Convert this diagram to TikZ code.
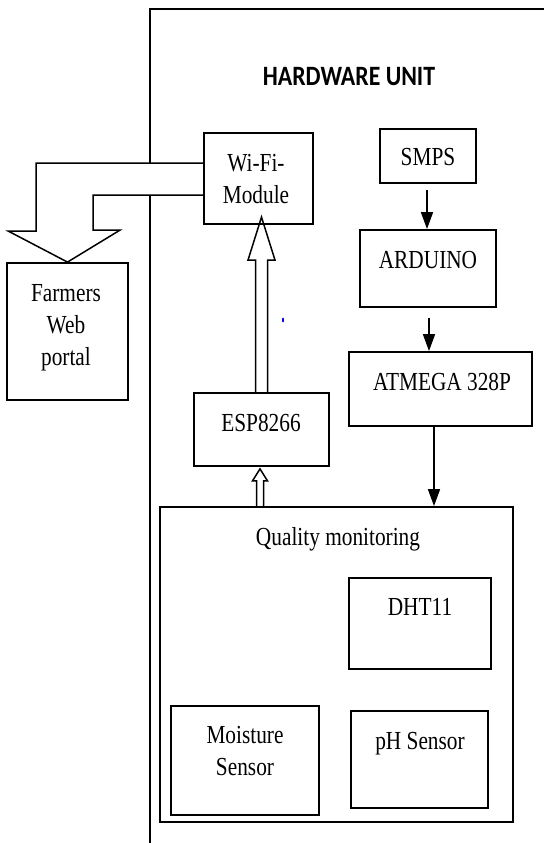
\documentclass[tikz,border=0pt]{standalone}
\usepackage{graphicx}
\usepackage{fontspec}
\setmainfont{Liberation Serif}
\newfontfamily\hwfont{Carlito}
\usetikzlibrary{arrows.meta,backgrounds}

% narrow text, as in the original scan
\newcommand\sq[1]{\scalebox{0.82}[1]{\begin{tabular}{@{}c@{}}#1\end{tabular}}}

\begin{document}
\begin{tikzpicture}[
    x=1pt, y=-1pt,
    box/.style={draw, line width=1.8pt, inner sep=0pt},
    txt/.style={font=\fontsize{26}{32}\selectfont, inner sep=0pt, yshift=-2pt},
    arr/.style={-{Triangle[length=17pt, width=12pt]}, line width=1.6pt},
    hollow/.style={draw, line width=1.5pt, fill=white, line join=miter},
  ]
    \useasboundingbox (0,0) rectangle (544,843);

    % hardware unit frame (runs off the page)
    \begin{scope}[on background layer]
      \draw[line width=1.5pt] (150,843) -- (150,9) -- (544,9);
    \end{scope}
    \node[font=\hwfont\bfseries\fontsize{28}{32}\selectfont, inner sep=0pt] (hw) at (349,77)
      {\scalebox{0.85}[1]{HARDWARE UNIT}};

    % === Left column ===
    \node[box, minimum width=109pt, minimum height=91pt] (wifi) at (258.5,178.5) {};
    \node[txt] (wifit) at (256,179) {\sq{Wi-Fi-\\Module}};

    \node[box, minimum width=135pt, minimum height=73pt] (esp) at (261.5,429.5) {};
    \node[txt] (espt) at (261,423) {\sq{ESP8266}};

    \node[box, minimum width=121pt, minimum height=137pt] (farm) at (67.5,331.5) {};
    \node[txt] (farmt) at (66,325) {\sq{Farmers\\Web\\portal}};

    % === Right column ===
    \node[box, minimum width=96pt, minimum height=54pt] (smps) at (428,156) {};
    \node[txt] (smpst) at (428,157) {\sq{SMPS}};

    \node[box, minimum width=136pt, minimum height=77pt] (ard) at (428,268.5) {};
    \node[txt] (ardt) at (428,260) {\sq{ARDUINO}};

    \node[box, minimum width=183pt, minimum height=74pt] (atm) at (440.5,389) {};
    \node[txt] (atmt) at (442,382) {\sq{ATMEGA 328P}};

    % === Quality monitoring ===
    \node[box, minimum width=353pt, minimum height=315pt] (qual) at (336.5,664.5) {};
    \node[txt] (qualt) at (338,537) {\sq{Quality monitoring}};

    \node[box, minimum width=142pt, minimum height=91pt] (dht) at (420,623.5) {};
    \node[txt] (dhtt) at (420,607) {\sq{DHT11}};

    \node[box, minimum width=148pt, minimum height=109pt] (moist) at (245,760.5) {};
    \node[txt] (moistt) at (245,751) {\sq{Moisture\\Sensor}};

    \node[box, minimum width=137pt, minimum height=97pt] (ph) at (419.5,759.5) {};
    \node[txt] (pht) at (420,741) {\sq{pH Sensor}};

    % stray mark
    \fill[blue!80!black] (283,320) ellipse (1pt and 2.5pt);

    % solid arrows
    \draw[arr] (smps.south) ++(-1,6) -- (427,0 |- ard.north);
    \draw[arr] (ard.south) ++(1,10) -- (429,0 |- atm.north);
    \draw[arr] (434,0 |- atm.south) -- (434,0 |- qual.north);

    % hollow arrows
    \begin{scope}[on background layer]
      \draw[hollow] (esp.north) ++(-6,0) -- ++(0,-132) -- ++(-7.5,0) -- ++(13.5,-43)
        -- ++(13.5,43) -- ++(-7.5,0) -- ++(0,132);
      \draw[hollow] (esp.south) ++(-1.5,41) ++(-3.5,0) -- ++(0,-27) -- ++(-4,0) -- ++(7.5,-12)
        -- ++(7.5,12) -- ++(-4,0) -- ++(0,27);
      \draw[hollow] (wifi.west) ++(0,-15.5) -- ++(-167,0) -- ++(0,68) -- ++(-28,0) -- (farm.north)
        -- ++(52.5,-32) -- ++(-27,0) -- ++(0,-35) -- ++(111,0);
    \end{scope}
  \end{tikzpicture}
\end{document}
